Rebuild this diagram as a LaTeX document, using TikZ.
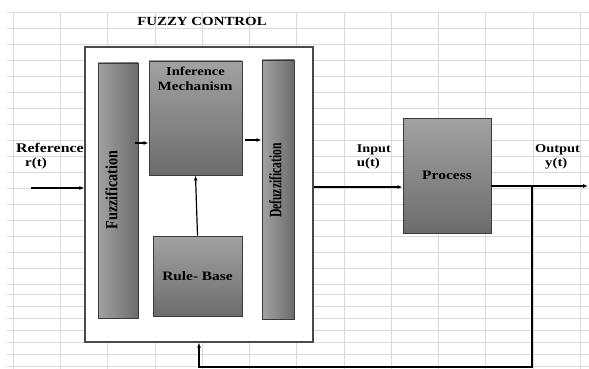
\documentclass[tikz,border=0pt]{standalone}
\usepackage{fontspec}
\setmainfont{Liberation Serif}
\newfontfamily\widefont[FakeStretch=1.2]{Liberation Serif}
\usetikzlibrary{arrows.meta}
\definecolor{gridc}{HTML}{DADADA}
\definecolor{edgec}{HTML}{3A3A3A}
\definecolor{outerc}{HTML}{4A4A4A}
\definecolor{gLight}{HTML}{A2A2A2}
\definecolor{gDark}{HTML}{6C6C6C}
\begin{document}
\begin{tikzpicture}[x=1pt,y=-1pt,
  gridline/.style={draw=gridc,line width=0.9pt},
  lbl/.style={font=\widefont\bfseries\fontsize{#1}{14}\selectfont,inner sep=0pt,text=black},
  lbl/.default=12.5,
  vbox/.style={draw=edgec,line width=0.9pt,top color=gLight,bottom color=gDark,inner sep=0pt},
  hbar/.style={draw=edgec,line width=0.9pt,left color=gLight,right color=gDark,inner sep=0pt},
  conn/.style={line width=1.2pt,draw=black},
  arr/.style={conn,-{Latex[length=5pt,width=4pt]}}]
\useasboundingbox (0,0) rectangle (589,369);
\fill[white] (0,0) rectangle (589,369);
% spreadsheet grid
\foreach \gx in {0,...,12} \draw[gridline] ({13.3+47.25*\gx},12) -- ({13.3+47.25*\gx},369);
\foreach \k in {0,...,17} \draw[gridline] (7,{12.3+16*\k}) -- (589,{12.3+16*\k});
\foreach \gy in {294.3,306.7,318.3,330.7,342.7,354.3,366.7} \draw[gridline] (7,\gy) -- (589,\gy);
% title
\node[lbl=12.4,anchor=base] (title) at (202,25.7) {FUZZY CONTROL};
% outer box
\node[draw=outerc,line width=1.2pt,fill=white,minimum width=228pt,minimum height=295pt,inner sep=0pt] (outer) at (199,194.5) {};
% inner blocks
\node[hbar,minimum width=40pt,minimum height=255pt] (fuzz) at (118,190.5) {};
\node[vbox,minimum width=93pt,minimum height=114pt] (inf) at (195.5,118) {};
\node[hbar,minimum width=32pt,minimum height=259pt] (defuzz) at (278,189.5) {};
\node[vbox,minimum width=89pt,minimum height=80pt,lbl=12.8] (rule) at (197.5,276) {Rule- Base};
\node[vbox,minimum width=88pt,minimum height=115pt,lbl=12.9] (proc) at (447,175.5) {Process};
% block texts
\node[lbl=12.1,anchor=base] (inftxt1) at (195.5,75.7) {Inference};
\node[lbl=12.6,anchor=base] (inftxt2) at (195,90) {Mechanism};
\node[inner sep=0pt,rotate=90,font=\bfseries\fontsize{14.2}{16}\selectfont] (fuzztxt) at (111.5,190) {\scalebox{1}[1.2]{Fuzzification}};
\node[inner sep=0pt,rotate=90,font=\bfseries\fontsize{11.6}{14}\selectfont] (defuzztxt) at (275.3,180.5) {\scalebox{1}[1.5]{Defuzzification}};
% signal labels
\node[lbl=13.2,anchor=base west] (reflbl) at (16,152.3) {Reference};
\node[lbl=12.5,anchor=base west] (rlbl) at (25,166) {r(t)};
\node[lbl=11.8,anchor=base west] (inlbl) at (356.7,152.7) {Input};
\node[lbl=12.3,anchor=base west] (ulbl) at (356.7,166) {u(t)};
\node[lbl=12.0,anchor=base west] (outlbl) at (535,152.7) {Output};
\node[lbl=12.3,anchor=base west] (ylbl) at (545,166) {y(t)};
% connectors
\coordinate (refin) at (31,188);
\draw[arr] (refin) -- (refin -| outer.west);
\coordinate (a1) at (135,143);
\draw[arr] (a1) -- (a1 -| inf.west);
\coordinate (a2) at (245,140);
\draw[arr] (a2) -- (a2 -| defuzz.west);
\draw[arr] (rule.north) -- (inf.south);
\coordinate (a3) at (313,187);
\draw[arr] (a3 -| outer.east) -- (a3 -| proc.west);
\coordinate (yout) at (588,186);
\draw[arr] (yout -| proc.east) -- (yout);
\coordinate (br) at (532,186);
\coordinate (fb) at (199,367);
\draw[arr] (br) |- (fb) -- (fb |- outer.south);
\end{tikzpicture}
\end{document}
